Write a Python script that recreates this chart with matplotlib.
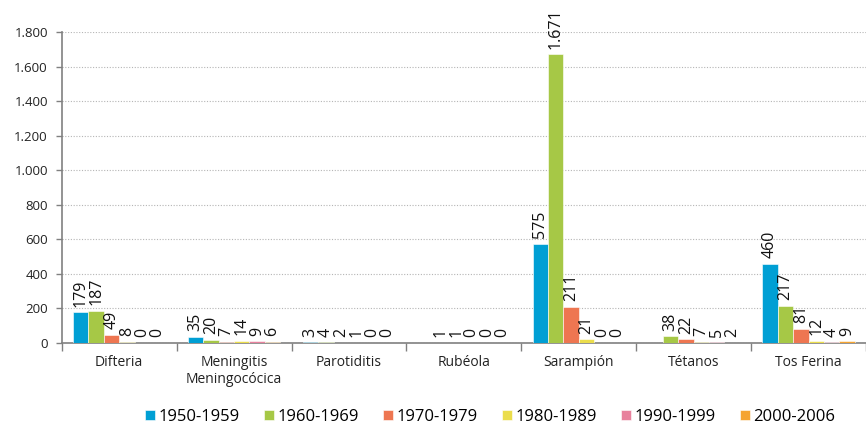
import numpy as np
import matplotlib
matplotlib.use("Agg")
import matplotlib.pyplot as plt
from matplotlib.ticker import FuncFormatter, FixedLocator

categories = ["Difteria", "Meningitis\nMeningocócica", "Parotiditis", "Rubéola",
              "Sarampión", "Tétanos", "Tos Ferina"]
series_names = ["1950-1959", "1960-1969", "1970-1979", "1980-1989", "1990-1999", "2000-2006"]
v1950 = [179, 35, 3, None, 575, None, 460]
v1960 = [187, 20, 4, 1, 1671, 38, 217]
v1970 = [49, 7, 2, 1, 211, 22, 81]
v1980 = [8, 14, 1, 0, 21, 7, 12]
v1990 = [0, 9, 0, 0, 0, 5, 4]
v2000 = [0, 6, 0, 0, 0, 2, 9]
series_values = [v1950, v1960, v1970, v1980, v1990, v2000]
colors = ["#009FD4", "#A6C846", "#EE7651", "#EBDD4C", "#E8819D", "#F5A431"]
yticks = [0, 200, 400, 600, 800, 1000, 1200, 1400, 1600, 1800]

plt.rcParams['font.family'] = ['Open Sans', 'DejaVu Sans']

fig = plt.figure(figsize=(8.66, 4.25), dpi=100)
left = 61.7 / 866
ax = fig.add_axes([left, 82 / 425, 1 - left, (343 - 32) / 425])

x = np.arange(len(categories))
bw = 0.134
for i, (name, vals, c) in enumerate(zip(series_names, series_values, colors)):
    h = np.array([np.nan if v is None else v for v in vals], dtype=float)
    pos = x + (i - 2.5) * bw
    ax.bar(pos, h, width=bw, color=c, edgecolor="white", linewidth=0.4, label=name, zorder=3)
    for px, v in zip(pos, vals):
        if v is None:
            continue
        ax.annotate(f"{v:,}".replace(",", "."), (px, v), xytext=(0, 4),
                    textcoords="offset points", rotation=90, ha="center", va="bottom",
                    fontsize=11.5, color="#111111", zorder=4)

ax.set_xlim(-0.5, 6.5 - 6 / 115.8)
ax.set_ylim(0, 1800)
ax.yaxis.set_major_locator(FixedLocator(yticks))
ax.yaxis.set_major_formatter(FuncFormatter(lambda v, p: f"{int(v):,}".replace(",", ".")))
ax.grid(axis="y", linestyle=(0, (1, 1.5)), color="#b5b5b5", linewidth=0.8, zorder=0)

ax.set_xticks(x)
ax.set_xticklabels(categories, fontsize=10, color="#222222", linespacing=1.1)
ax.set_xticks(np.arange(-0.5, 7, 1), minor=True)
ax.tick_params(axis="x", which="major", length=0, pad=9)
ax.tick_params(axis="x", which="minor", length=6, width=1, color="#808080", direction="out")
ax.tick_params(axis="y", length=4, width=1, color="#808080", labelsize=9.5, labelcolor="#222222", pad=6)

for s in ["top", "right"]:
    ax.spines[s].set_visible(False)
for s in ["left", "bottom"]:
    ax.spines[s].set_color("#808080")
    ax.spines[s].set_linewidth(1.2)

fig.legend(loc="center", bbox_to_anchor=(490 / 866, 8 / 425), ncol=6, frameon=False,
           fontsize=12, handlelength=0.6, handleheight=0.6, handletextpad=0.2,
           columnspacing=1.46, borderaxespad=0)

fig.savefig("out.png", dpi=100)
